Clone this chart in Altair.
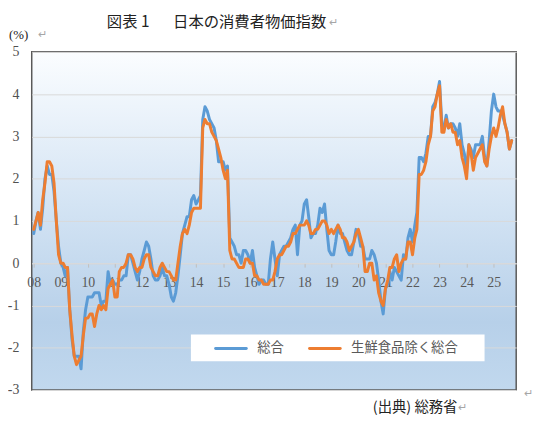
import altair as alt
import pandas as pd

# ---------------- data ----------------
series_names = ["総合", "生鮮食品除く総合"]
series_colors = ["#5B9BD5", "#ED7D31"]

# 総合 (headline CPI, y/y %), monthly Jan 2008 - Sep 2025
headline = [
    0.7, 1.0, 1.2, 0.8, 1.3, 2.0, 2.3, 2.1, 2.1, 1.7, 1.0, 0.4,        # 2008
    0.0, -0.1, -0.3, -0.1, -1.1, -1.8, -2.2, -2.2, -2.2, -2.5, -1.6, -1.1,  # 2009
    -0.8, -0.8, -0.8, -0.7, -0.7, -0.7, -1.0, -0.9, -0.9, -0.2, -0.5, -0.4,  # 2010
    -0.5, -0.5, -0.4, -0.4, -0.3, -0.3, 0.2, 0.2, 0.0, -0.2, -0.4, -0.2,   # 2011
    0.1, 0.3, 0.5, 0.4, 0.1, -0.3, -0.4, -0.4, -0.3, -0.1, -0.3, -0.3,     # 2012
    -0.5, -0.8, -0.9, -0.7, -0.3, 0.2, 0.7, 0.9, 1.1, 1.1, 1.5, 1.6,       # 2013
    1.4, 1.5, 1.6, 3.4, 3.7, 3.6, 3.4, 3.3, 3.2, 2.9, 2.4, 2.4,            # 2014
    2.4, 2.2, 2.3, 0.6, 0.5, 0.4, 0.2, 0.2, 0.0, 0.3, 0.3, 0.2,            # 2015
    0.0, 0.3, -0.1, -0.3, -0.5, -0.4, -0.4, -0.5, -0.5, 0.1, 0.5, 0.1,     # 2016
    -0.3, 0.2, 0.3, 0.4, 0.4, 0.5, 0.6, 0.8, 0.9, 0.2, 0.9, 1.0,           # 2017
    1.4, 1.5, 1.1, 0.6, 0.7, 0.7, 0.9, 1.3, 1.2, 1.4, 0.8, 0.3,            # 2018
    0.2, 0.2, 0.5, 0.9, 0.7, 0.7, 0.5, 0.3, 0.2, 0.2, 0.5, 0.8,            # 2019
    0.7, 0.4, 0.4, 0.1, 0.1, 0.1, 0.3, 0.2, 0.0, -0.4, -0.9, -1.2,         # 2020
    -0.6, -0.5, -0.2, -0.4, -0.1, -0.2, -0.3, -0.4, 0.2, 0.1, 0.6, 0.8,    # 2021
    0.5, 0.9, 1.2, 2.5, 2.5, 2.4, 2.6, 3.0, 3.0, 3.7, 3.8, 4.0,            # 2022
    4.3, 3.3, 3.2, 3.5, 3.2, 3.3, 3.3, 3.2, 3.0, 3.3, 2.8, 2.6,            # 2023
    2.2, 2.8, 2.7, 2.5, 2.8, 2.8, 2.8, 3.0, 2.5, 2.3, 2.9, 3.6,            # 2024
    4.0, 3.7, 3.6, 3.6, 3.5, 3.3, 3.1, 2.7, 2.9,                           # 2025
]

# 生鮮食品除く総合 (core CPI, y/y %)
core = [
    0.8, 1.0, 1.2, 0.9, 1.5, 1.9, 2.4, 2.4, 2.3, 1.9, 1.0, 0.2,            # 2008
    0.0, 0.0, -0.1, -0.1, -1.1, -1.7, -2.2, -2.4, -2.3, -2.2, -1.7, -1.3,  # 2009
    -1.3, -1.2, -1.2, -1.5, -1.2, -1.0, -1.1, -1.0, -1.1, -0.6, -0.5, -0.4,  # 2010
    -0.8, -0.8, -0.2, -0.1, -0.1, 0.0, 0.2, 0.2, 0.1, -0.1, -0.2, -0.1,    # 2011
    -0.1, 0.1, 0.2, 0.2, -0.1, -0.2, -0.3, -0.3, -0.1, 0.0, -0.1, -0.2,    # 2012
    -0.2, -0.3, -0.4, -0.4, 0.0, 0.4, 0.7, 0.8, 0.7, 0.9, 1.2, 1.3,        # 2013
    1.3, 1.3, 1.3, 3.2, 3.4, 3.3, 3.3, 3.1, 3.0, 2.9, 2.7, 2.5,            # 2014
    2.2, 2.0, 2.2, 0.3, 0.1, 0.1, 0.0, -0.1, -0.1, -0.1, 0.1, 0.1,         # 2015
    0.0, 0.0, -0.3, -0.3, -0.4, -0.4, -0.5, -0.5, -0.5, -0.4, -0.4, -0.2,  # 2016
    0.1, 0.2, 0.2, 0.3, 0.4, 0.4, 0.5, 0.7, 0.7, 0.8, 0.9, 0.9,            # 2017
    0.9, 1.0, 0.9, 0.7, 0.7, 0.8, 0.8, 0.9, 1.0, 1.0, 0.9, 0.7,            # 2018
    0.8, 0.7, 0.8, 0.9, 0.8, 0.6, 0.6, 0.5, 0.3, 0.4, 0.5, 0.7,            # 2019
    0.8, 0.6, 0.4, -0.2, -0.2, 0.0, 0.0, -0.4, -0.3, -0.7, -0.9, -1.0,     # 2020
    -0.6, -0.4, -0.1, -0.1, 0.1, 0.2, -0.2, 0.0, 0.1, 0.1, 0.5, 0.5,       # 2021
    0.2, 0.6, 0.8, 2.1, 2.1, 2.2, 2.4, 2.8, 3.0, 3.6, 3.7, 4.0,            # 2022
    4.2, 3.1, 3.1, 3.4, 3.2, 3.3, 3.1, 3.1, 2.8, 2.9, 2.5, 2.3,            # 2023
    2.0, 2.8, 2.6, 2.2, 2.5, 2.6, 2.7, 2.8, 2.4, 2.3, 2.7, 3.0,            # 2024
    3.2, 3.0, 3.2, 3.5, 3.7, 3.3, 3.1, 2.7, 2.9,                           # 2025
]

months = pd.date_range("2008-01-01", periods=len(headline), freq="MS").strftime("%Y-%m-%dT00:00:00").tolist()
y_ticks = [-3, -2, -1, 0, 1, 2, 3, 4, 5]

title_a = "図表 1"
title_b = "日本の消費者物価指数"
unit_label = "(%)"
source_label = "(出典) 総務省"
para_mark = "↵"

df = pd.DataFrame({
    "month": months * 2,
    "value": headline + core,
    "series": [series_names[0]] * len(headline) + [series_names[1]] * len(core),
})

# ---------------- chart ----------------
W, H = 490, 342
JP = "Noto Sans CJK JP"
SERIF = "Liberation Serif"

x_enc = alt.X(
    "month:T",
    scale=alt.Scale(domain=[alt.DateTime(year=2007, month=12, date=5),
                            alt.DateTime(year=2025, month=11, date=1)]),
    axis=alt.Axis(
        title=None, orient="bottom", offset=-128.25,
        tickCount=alt.TimeIntervalStep(interval="year", step=1),
        format="%y", grid=False,
        labelFont=SERIF, labelFontSize=14, labelColor="#595959",
        labelPadding=9, labelFlush=False, labelOverlap=False,
        tickColor="#bfbfbf", tickSize=4, domainColor="#d9d9d9", domainWidth=1,
    ),
)
y_enc = alt.Y(
    "value:Q",
    scale=alt.Scale(domain=[-3, 5], nice=False, zero=False),
    axis=alt.Axis(
        title=None, values=y_ticks, grid=True, gridColor="#d9d9d9", gridWidth=1,
        ticks=False, domain=False,
        labelFont=SERIF, labelFontSize=14, labelColor="#505050",
        labelPadding=13, labelExpr="'' + datum.value",
    ),
)
color_enc = alt.Color("series:N", scale=alt.Scale(domain=series_names, range=series_colors), legend=None)

base = alt.Chart(df)
line_blue = base.transform_filter(alt.datum.series == series_names[0]).mark_line(
    strokeWidth=3, strokeJoin="round", strokeCap="round"
).encode(x=x_enc, y=y_enc, color=color_enc)
line_orange = base.transform_filter(alt.datum.series == series_names[1]).mark_line(
    strokeWidth=3, strokeJoin="round", strokeCap="round"
).encode(x=x_enc, y=y_enc, color=color_enc)

one = alt.Data(values=[{"k": 1}])


def label(text, x, y, size, color, font, align="left"):
    return alt.Chart(one).mark_text(
        align=align, baseline="middle", font=font, fontSize=size, color=color
    ).encode(x=alt.value(x), y=alt.value(y), text=alt.value(text))


# legend box (manual)
leg_box = alt.Chart(one).mark_rect(fill="white").encode(
    x=alt.value(161), x2=alt.value(458), y=alt.value(286), y2=alt.value(313)
)
leg_line1 = alt.Chart(one).mark_rule(strokeWidth=3, color=series_colors[0], strokeCap="round").encode(
    x=alt.value(186), x2=alt.value(217), y=alt.value(300)
)
leg_line2 = alt.Chart(one).mark_rule(strokeWidth=3, color=series_colors[1], strokeCap="round").encode(
    x=alt.value(281), x2=alt.value(312), y=alt.value(300)
)
leg_t1 = label(series_names[0], 228, 300, 13.5, "#595959", JP)
leg_t2 = label(series_names[1], 323, 300, 13.5, "#595959", JP)

t_title_a = label(title_a, 76, -30, 15.5, "#222222", JP)
t_title_b = label(title_b, 143, -30, 15.5, "#222222", JP)
t_title_p = label(para_mark, 301, -29, 11, "#a6a6a6", JP)
t_unit = label(unit_label, -23, -17, 13, "#222222", SERIF)
t_unit_p = label(para_mark, 6, -17, 11, "#a6a6a6", JP)
t_src = label(source_label, 345, 360, 14.5, "#222222", JP)
t_src_p = label(para_mark, 431, 360, 11, "#a6a6a6", JP)
t_side_p = label(para_mark, 498, 346, 11, "#a6a6a6", JP)

bg_expr = ("{gradient: 'linear', x1: 0, y1: 0, x2: 0, y2: 1, stops: ["
           "{offset: 0, color: '#fbfdff'}, {offset: 0.45, color: '#d4e4f4'}, "
           "{offset: 0.8, color: '#b7d0e9'}, {offset: 1, color: '#c1d8ee'}]}")

chart = alt.layer(
    line_blue, line_orange,
    leg_box, leg_line1, leg_line2, leg_t1, leg_t2,
    t_title_a, t_title_b, t_title_p, t_unit, t_unit_p, t_src, t_src_p, t_side_p,
).properties(
    width=W, height=H,
    autosize=alt.AutoSizeParams(type="none"),
    padding={"left": 24, "top": 42, "right": 18, "bottom": 26},
    view=alt.ViewBackground(fill=alt.ExprRef(expr=bg_expr), stroke="#595959", strokeWidth=1.5),
).configure(background="white")

chart.save("out.html", embed_options={"renderer": "svg", "actions": False})
